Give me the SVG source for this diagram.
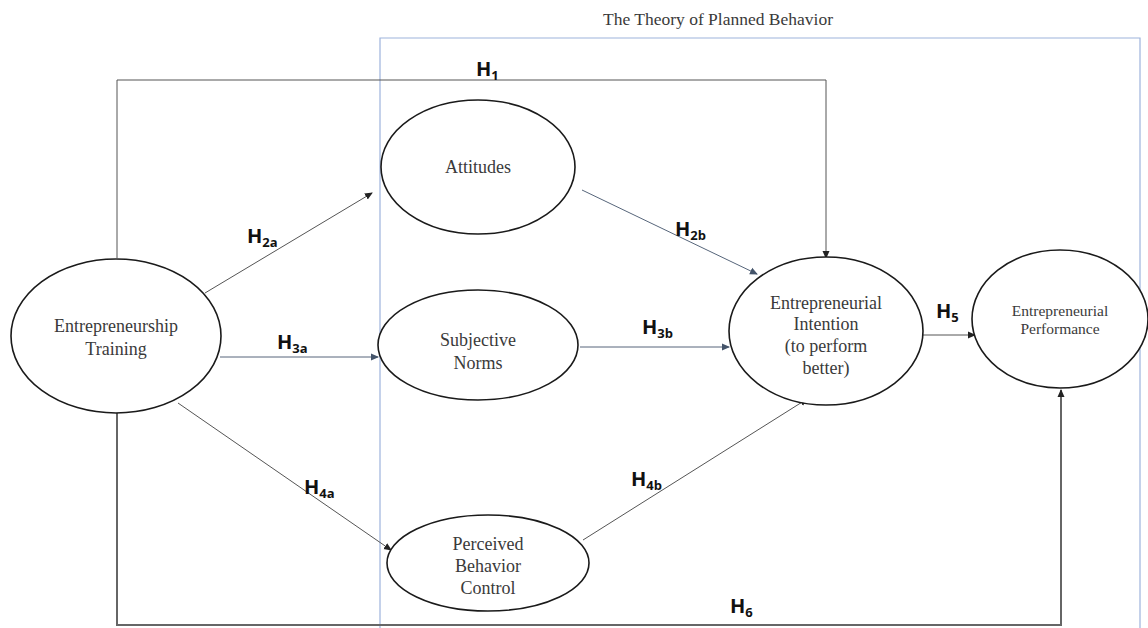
<svg xmlns="http://www.w3.org/2000/svg" width="1148" height="628" viewBox="0 0 1148 628">
<style>
.node{fill:#fff;stroke:#1a1a1a;stroke-width:1.6}
.lbl{font-family:"Liberation Serif",serif;font-size:18px;fill:#3a3a3a;text-anchor:middle}
.sm{font-size:15.5px}
.h{font-family:"Open Sans","Liberation Sans",sans-serif;font-size:20px;font-weight:bold;fill:#111}
.s{font-size:13px}
.c{fill:none;stroke:#555;stroke-width:1}
.cb{fill:none;stroke:#56657a;stroke-width:1}
.ck{fill:none;stroke:#666;stroke-width:2}
</style>
<defs>
<marker id="a" markerWidth="8" markerHeight="8" refX="7" refY="4" orient="auto" markerUnits="userSpaceOnUse"><path d="M0,0.5 L8,4 L0,7.5 Z" fill="#222"/></marker>
<marker id="ab" markerWidth="8" markerHeight="8" refX="7" refY="4" orient="auto" markerUnits="userSpaceOnUse"><path d="M0,0.5 L8,4 L0,7.5 Z" fill="#44546a"/></marker>
</defs>
<rect width="1148" height="628" fill="#fff"/>
<text x="718" y="25" font-family="Liberation Serif,serif" font-size="17.5" fill="#3a3a3a" text-anchor="middle">The Theory of Planned Behavior</text>
<path d="M380,628 V38 H1140 V628" fill="none" stroke="#9db3dc" stroke-width="1.2"/>
<g id="connectors">
<path class="c" d="M117,258 V80 H826 V258" stroke="#666" stroke-width="1.4" marker-end="url(#a)"/>
<path class="ck" d="M117,413 V625 H1061 V390" marker-end="url(#a)"/>
<path class="c" d="M205,293 L372,193" marker-end="url(#a)"/>
<path class="cb" d="M220,357 L378,357" marker-end="url(#ab)"/>
<path class="c" d="M178,403 L391,550" marker-end="url(#a)"/>
<path class="cb" d="M582,190 L757,274" marker-end="url(#ab)"/>
<path class="cb" d="M580,347 L729,347" marker-end="url(#ab)"/>
<path class="c" d="M583,540 L807,399" marker-end="url(#a)"/>
<path class="c" d="M923,335 L975,335" marker-end="url(#a)"/>
<text class="h" x="476" y="76">H<tspan class="s" dy="4">1</tspan></text>
<text class="h" x="247" y="243">H<tspan class="s" dy="4">2a</tspan></text>
<text class="h" x="277" y="349">H<tspan class="s" dy="4">3a</tspan></text>
<text class="h" x="304" y="494">H<tspan class="s" dy="4">4a</tspan></text>
<text class="h" x="675" y="236">H<tspan class="s" dy="4">2b</tspan></text>
<text class="h" x="642" y="334">H<tspan class="s" dy="4">3b</tspan></text>
<text class="h" x="631" y="486">H<tspan class="s" dy="4">4b</tspan></text>
<text class="h" x="936" y="318">H<tspan class="s" dy="4">5</tspan></text>
<text class="h" x="730" y="613">H<tspan class="s" dy="4">6</tspan></text>
</g>
<g id="training">
<ellipse class="node" cx="116" cy="336" rx="105" ry="77"/>
<text class="lbl" x="116" y="332">Entrepreneurship</text>
<text class="lbl" x="116" y="355">Training</text>
</g>
<g id="attitudes">
<ellipse class="node" cx="478" cy="167" rx="97" ry="67"/>
<text class="lbl" x="478" y="173">Attitudes</text>
</g>
<g id="norms">
<ellipse class="node" cx="478" cy="345" rx="100" ry="55"/>
<text class="lbl" x="478" y="346">Subjective</text>
<text class="lbl" x="478" y="369">Norms</text>
</g>
<g id="pbc">
<ellipse class="node" cx="488" cy="563" rx="101" ry="48"/>
<text class="lbl" x="488" y="550">Perceived</text>
<text class="lbl" x="488" y="572">Behavior</text>
<text class="lbl" x="488" y="594">Control</text>
</g>
<g id="intention">
<ellipse class="node" cx="826" cy="331" rx="97" ry="74"/>
<text class="lbl" x="826" y="309">Entrepreneurial</text>
<text class="lbl" x="826" y="330">Intention</text>
<text class="lbl" x="826" y="352">(to perform</text>
<text class="lbl" x="826" y="374">better)</text>
</g>
<g id="performance">
<ellipse class="node" cx="1060" cy="319" rx="88" ry="69"/>
<text class="lbl sm" x="1060" y="316">Entrepreneurial</text>
<text class="lbl sm" x="1060" y="334">Performance</text>
</g>
</svg>
